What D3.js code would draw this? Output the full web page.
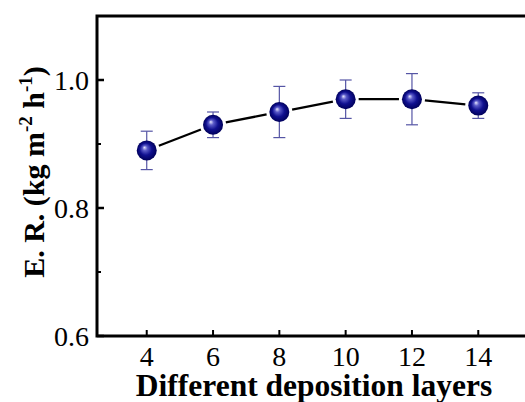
<!DOCTYPE html>
<html>
<head>
<meta charset="utf-8">
<script src="https://cdn.jsdelivr.net/npm/d3@7"></script>
<style>
  body { margin: 0; background: #fff; }
  svg { display: block; }
  text { font-family: "Liberation Serif", "Times New Roman", serif; fill: #000; }
</style>
</head>
<body>
<div id="chart"></div>
<script>
// data
var layers = [4, 6, 8, 10, 12, 14];
var rate = [0.89, 0.93, 0.95, 0.97, 0.97, 0.96];
var errLow = [0.86, 0.91, 0.91, 0.94, 0.93, 0.94];
var errHigh = [0.92, 0.95, 0.99, 1.00, 1.01, 0.98];
var yMajor = [0.6, 0.8, 1.0];
var yMinor = [0.7, 0.9];

var W = 525, H = 402;
var mLeft = 97, mTop = 16, mBottom = 336, mRight = 528;

var svg = d3.select("#chart").append("svg").attr("width", W).attr("height", H);

var defs = svg.append("defs");
var grad = defs.append("radialGradient").attr("id", "ball")
  .attr("cx", "50%").attr("cy", "50%").attr("r", "50%")
  .attr("fx", "38%").attr("fy", "35%");
grad.append("stop").attr("offset", "0%").attr("stop-color", "#e8e8ff");
grad.append("stop").attr("offset", "25%").attr("stop-color", "#5a5ac8");
grad.append("stop").attr("offset", "60%").attr("stop-color", "#101090");
grad.append("stop").attr("offset", "100%").attr("stop-color", "#00005a");

var x = d3.scaleLinear().domain([2.5, 15.5]).range([mLeft, mRight]);
var y = d3.scaleLinear().domain([0.6, 1.1]).range([mBottom, mTop]);

// frame
svg.append("path")
  .attr("d", "M" + mRight + "," + mTop + "H" + mLeft + "V" + mBottom + "H" + mRight)
  .attr("fill", "none").attr("stroke", "#000").attr("stroke-width", 3);

// x ticks, pointing inward
var xt = svg.append("g");
xt.selectAll("line").data(layers).enter().append("line")
  .attr("x1", function(d) { return x(d); }).attr("x2", function(d) { return x(d); })
  .attr("y1", mBottom).attr("y2", mBottom - 6)
  .attr("stroke", "#000").attr("stroke-width", 2);
xt.selectAll("text").data(layers).enter().append("text")
  .attr("x", function(d) { return x(d); }).attr("y", mBottom + 30)
  .attr("text-anchor", "middle").style("font-size", "28px")
  .text(function(d) { return d; });

// y ticks
var yt = svg.append("g");
yt.selectAll("line.maj").data(yMajor).enter().append("line").attr("class", "maj")
  .attr("x1", mLeft).attr("x2", mLeft + 7)
  .attr("y1", function(d) { return y(d); }).attr("y2", function(d) { return y(d); })
  .attr("stroke", "#000").attr("stroke-width", 2.5);
yt.selectAll("line.min").data(yMinor).enter().append("line").attr("class", "min")
  .attr("x1", mLeft).attr("x2", mLeft + 4)
  .attr("y1", function(d) { return y(d); }).attr("y2", function(d) { return y(d); })
  .attr("stroke", "#000").attr("stroke-width", 2);
yt.selectAll("text").data(yMajor).enter().append("text")
  .attr("x", mLeft - 8).attr("y", function(d) { return y(d) + 10; })
  .attr("text-anchor", "end").style("font-size", "28px")
  .text(function(d) { return d.toFixed(1); });

// axis titles
svg.append("text")
  .attr("x", 314).attr("y", 396)
  .attr("text-anchor", "middle")
  .style("font-size", "31.5px").style("font-weight", "bold")
  .text("Different deposition layers");

var yl = svg.append("text")
  .attr("transform", "translate(44,172) rotate(-90)")
  .attr("text-anchor", "middle")
  .style("font-size", "30px").style("font-weight", "bold");
yl.append("tspan").text("E. R. (kg m");
yl.append("tspan").attr("dy", -12).style("font-size", "19px").text("-2");
yl.append("tspan").attr("dy", 12).text(" h");
yl.append("tspan").attr("dy", -12).style("font-size", "19px").text("-1");
yl.append("tspan").attr("dy", 12).text(")");

// connecting line, segments stop short of the balls
var r = 10, gap = 3;
var segs = d3.pairs(d3.range(layers.length));
svg.append("g").selectAll("line").data(segs).enter().append("line")
  .each(function(p) {
    var x1 = x(layers[p[0]]), y1 = y(rate[p[0]]);
    var x2 = x(layers[p[1]]), y2 = y(rate[p[1]]);
    var len = Math.hypot(x2 - x1, y2 - y1), k = (r + gap) / len;
    d3.select(this)
      .attr("x1", x1 + (x2 - x1) * k).attr("y1", y1 + (y2 - y1) * k)
      .attr("x2", x2 - (x2 - x1) * k).attr("y2", y2 - (y2 - y1) * k);
  })
  .attr("stroke", "#000").attr("stroke-width", 2.3);

// error bars
var eb = svg.append("g").attr("stroke", "#5555a5").attr("stroke-width", 1.2);
layers.forEach(function(d, i) {
  var cx = x(d);
  eb.append("line").attr("x1", cx).attr("x2", cx).attr("y1", y(errLow[i])).attr("y2", y(errHigh[i]));
  eb.append("line").attr("x1", cx - 6).attr("x2", cx + 6).attr("y1", y(errLow[i])).attr("y2", y(errLow[i]));
  eb.append("line").attr("x1", cx - 6).attr("x2", cx + 6).attr("y1", y(errHigh[i])).attr("y2", y(errHigh[i]));
});

// markers
svg.append("g").selectAll("circle").data(layers).enter().append("circle")
  .attr("cx", function(d) { return x(d); })
  .attr("cy", function(d, i) { return y(rate[i]); })
  .attr("r", r)
  .attr("fill", "url(#ball)");
</script>
</body>
</html>
